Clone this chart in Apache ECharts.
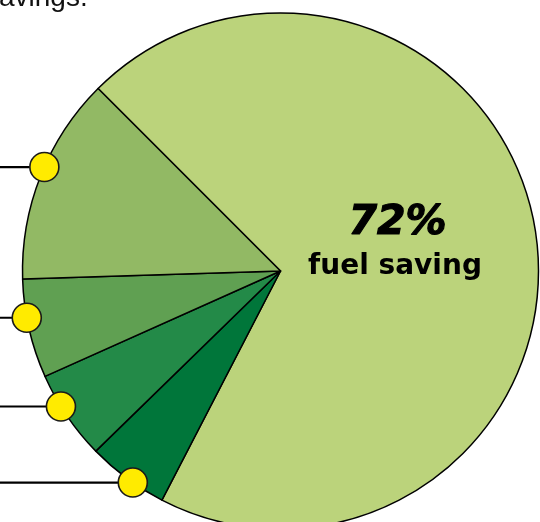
<!DOCTYPE html>
<html><head><meta charset="utf-8">
<script src="https://cdn.jsdelivr.net/npm/echarts/dist/echarts.min.js"></script>
<style>html,body{margin:0;padding:0;background:#fff;overflow:hidden}#c{width:540px;height:522px}</style>
</head><body><div id="c"></div>
<script>
// ---- data ----
const categories = ['Fuel saving', 'Segment D', 'Segment C', 'Segment B', 'Segment A'];
const values = [70.1, 5.1, 5.6, 6.2, 13.0];
const sliceColors = ['#BBD37B', '#00763A', '#238A48', '#60A052', '#92B964'];
// callout marker positions, in the same value units as the slices (clockwise from the start)
const calloutPositions = [72.2, 78.7, 84.6, 94.1];
const headline = '72%';
const subline = 'fuel saving';
const topText = 'savings.';

const total = values.reduce((a, b) => a + b, 0);
const CENTER = [280.5, 271];
const RADIUS = 258;

const chart = echarts.init(document.getElementById('c'), null, {renderer: 'canvas'});
chart.setOption({
  backgroundColor: '#fff',
  animation: false,
  polar: {center: CENTER, radius: RADIUS},
  angleAxis: {type: 'value', min: 0, max: total, startAngle: 135, clockwise: true, show: false,
    axisLine: {show: false}, splitLine: {show: false}, axisTick: {show: false}, axisLabel: {show: false}},
  radiusAxis: {type: 'value', min: 0, max: 1, show: false,
    axisLine: {show: false}, splitLine: {show: false}, axisTick: {show: false}, axisLabel: {show: false}},
  graphic: [
    {type: 'text', left: -15, top: -16, z: 10,
      style: {text: topText, font: '28px "Liberation Sans", Arial, sans-serif', fill: '#111'}},
    {type: 'text', x: 397.5, y: 223.8, z: 10,
      style: {text: headline, font: 'italic bold 41px "DejaVu Sans", sans-serif', fill: '#000',
        stroke: '#000', lineWidth: 1.2, textAlign: 'center', textVerticalAlign: 'middle'}},
    {type: 'text', x: 395, y: 266.5, z: 10,
      style: {text: subline, font: 'bold 28px "DejaVu Sans", sans-serif', fill: '#000',
        textAlign: 'center', textVerticalAlign: 'middle'}}
  ],
  series: [
    {
      type: 'pie', center: CENTER, radius: RADIUS, startAngle: 135, clockwise: true,
      silent: true, label: {show: false}, labelLine: {show: false},
      itemStyle: {borderColor: '#000', borderWidth: 1.5},
      data: categories.map((c, i) => ({name: c, value: values[i], itemStyle: {color: sliceColors[i]}}))
    },
    {
      type: 'scatter', coordinateSystem: 'polar', silent: true, z: 5,
      symbol: 'circle', symbolSize: 29,
      itemStyle: {color: '#FFEB00', borderColor: '#1a1a1a', borderWidth: 1.6, opacity: 1},
      label: {show: true, formatter: ' ', position: 'left', fontSize: 4},
      labelLine: {show: true, lineStyle: {color: '#000', width: 2.2}},
      labelLayout: function (p) {
        return {x: -30, y: p.rect.y + p.rect.height / 2, align: 'right', verticalAlign: 'middle'};
      },
      data: calloutPositions.map(v => [1, v])
    }
  ]
});
</script></body></html>
